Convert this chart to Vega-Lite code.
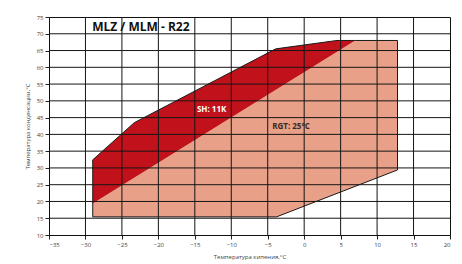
{
  "$schema": "https://vega.github.io/schema/vega-lite/v6.json",
  "width": 401,
  "height": 218,
  "autosize": "none",
  "padding": {"left": 49, "top": 17, "right": 12, "bottom": 29},
  "background": "white",
  "config": {
    "view": {"stroke": "#111", "strokeWidth": 1},
    "font": "Open Sans"
  },
  "datasets": {
    "rgt": [
      {"i": 1, "t": -29, "c": 15.4},
      {"i": 2, "t": -29, "c": 19.4},
      {"i": 3, "t": 7, "c": 68},
      {"i": 4, "t": 12.8, "c": 68},
      {"i": 5, "t": 12.8, "c": 29.4},
      {"i": 6, "t": -3.8, "c": 15.4}
    ],
    "sh": [
      {"i": 1, "t": -29, "c": 19.4},
      {"i": 2, "t": -29, "c": 32.4},
      {"i": 3, "t": -23.3, "c": 43.5},
      {"i": 4, "t": -3.9, "c": 65.5},
      {"i": 5, "t": 4.5, "c": 68},
      {"i": 6, "t": 7, "c": 68}
    ],
    "outline": [
      {"i": 1, "t": 7, "c": 68},
      {"i": 2, "t": 12.8, "c": 68},
      {"i": 3, "t": 12.8, "c": 29.4},
      {"i": 4, "t": -3.8, "c": 15.4},
      {"i": 5, "t": -29, "c": 15.4},
      {"i": 6, "t": -29, "c": 32.4},
      {"i": 7, "t": -23.3, "c": 43.5},
      {"i": 8, "t": -3.9, "c": 65.5},
      {"i": 9, "t": 4.5, "c": 68},
      {"i": 10, "t": 7, "c": 68}
    ],
    "gridx": [
      {"v": -30}, {"v": -25}, {"v": -20}, {"v": -15}, {"v": -10}, {"v": -5},
      {"v": 0}, {"v": 5}, {"v": 10}, {"v": 15}
    ],
    "gridy": [
      {"v": 15}, {"v": 20}, {"v": 25}, {"v": 30}, {"v": 35}, {"v": 40}, {"v": 45},
      {"v": 50}, {"v": 55}, {"v": 60}, {"v": 65}, {"v": 70}
    ],
    "labels": [
      {"t": -22.4, "c": 72.1, "label": "MLZ / MLM  -  R22", "kind": "title"},
      {"t": -12.7, "c": 47.4, "label": "SH: 11K", "kind": "sh"},
      {"t": -1.8, "c": 42.1, "label": "RGT: 25°C", "kind": "rgt"}
    ]
  },
  "layer": [
    {
      "data": {"name": "rgt"},
      "mark": {"type": "line", "fill": "#E8A088", "stroke": null, "interpolate": "linear"},
      "encoding": {
        "x": {"field": "t", "type": "quantitative", "scale": {"domain": [-35, 20], "nice": false, "zero": false},
          "axis": {"values": [-35, -30, -25, -20, -15, -10, -5, 0, 5, 10, 15, 20], "tickCount": 40, "title": "Температура кипения,°С", "titlePadding": 6,
            "grid": false, "zindex": 1,
            "labelFont": "Open Sans", "labelFontSize": 6, "labelColor": "#444", "labelOverlap": false,
            "titleFont": "Open Sans", "titleFontSize": 6, "titleFontWeight": "normal", "titleColor": "#444",
            "tickColor": "#222", "domainColor": "#111", "tickSize": 4, "labelPadding": 2}},
        "y": {"field": "c", "type": "quantitative", "scale": {"domain": [10, 75], "nice": false, "zero": false},
          "axis": {"values": [10, 15, 20, 25, 30, 35, 40, 45, 50, 55, 60, 65, 70, 75], "tickCount": 40, "title": "Температура конденсации,°С", "titlePadding": 6,
            "grid": false, "zindex": 1,
            "labelFont": "Open Sans", "labelFontSize": 6, "labelColor": "#444", "labelOverlap": false,
            "titleFont": "Open Sans", "titleFontSize": 6, "titleFontWeight": "normal", "titleColor": "#444",
            "tickColor": "#222", "domainColor": "#111", "tickSize": 4, "labelPadding": 2}},
        "order": {"field": "i", "type": "quantitative"}
      }
    },
    {
      "data": {"name": "sh"},
      "mark": {"type": "line", "fill": "#C1121C", "stroke": null},
      "encoding": {
        "x": {"field": "t", "type": "quantitative"},
        "y": {"field": "c", "type": "quantitative"},
        "order": {"field": "i", "type": "quantitative"}
      }
    },
    {
      "data": {"name": "gridx"},
      "mark": {"type": "rule", "stroke": "#151515", "strokeWidth": 1},
      "encoding": {"x": {"field": "v", "type": "quantitative"}}
    },
    {
      "data": {"name": "gridy"},
      "mark": {"type": "rule", "stroke": "#151515", "strokeWidth": 1},
      "encoding": {"y": {"field": "v", "type": "quantitative"}}
    },
    {
      "data": {"name": "outline"},
      "mark": {"type": "line", "stroke": "#1a1a1a", "strokeWidth": 1},
      "encoding": {
        "x": {"field": "t", "type": "quantitative"},
        "y": {"field": "c", "type": "quantitative"},
        "order": {"field": "i", "type": "quantitative"}
      }
    },
    {
      "data": {"name": "labels"},
      "transform": [{"filter": "datum.kind === 'title'"}],
      "mark": {"type": "text", "fontSize": 12, "fontWeight": "bold", "color": "#111", "font": "Open Sans"},
      "encoding": {"x": {"field": "t", "type": "quantitative"}, "y": {"field": "c", "type": "quantitative"}, "text": {"field": "label"}}
    },
    {
      "data": {"name": "labels"},
      "transform": [{"filter": "datum.kind === 'sh'"}],
      "mark": {"type": "text", "fontSize": 8, "fontWeight": "bold", "color": "white", "font": "Open Sans"},
      "encoding": {"x": {"field": "t", "type": "quantitative"}, "y": {"field": "c", "type": "quantitative"}, "text": {"field": "label"}}
    },
    {
      "data": {"name": "labels"},
      "transform": [{"filter": "datum.kind === 'rgt'"}],
      "mark": {"type": "text", "fontSize": 8, "fontWeight": "bold", "color": "#3a2a22", "font": "Open Sans"},
      "encoding": {"x": {"field": "t", "type": "quantitative"}, "y": {"field": "c", "type": "quantitative"}, "text": {"field": "label"}}
    }
  ]
}
